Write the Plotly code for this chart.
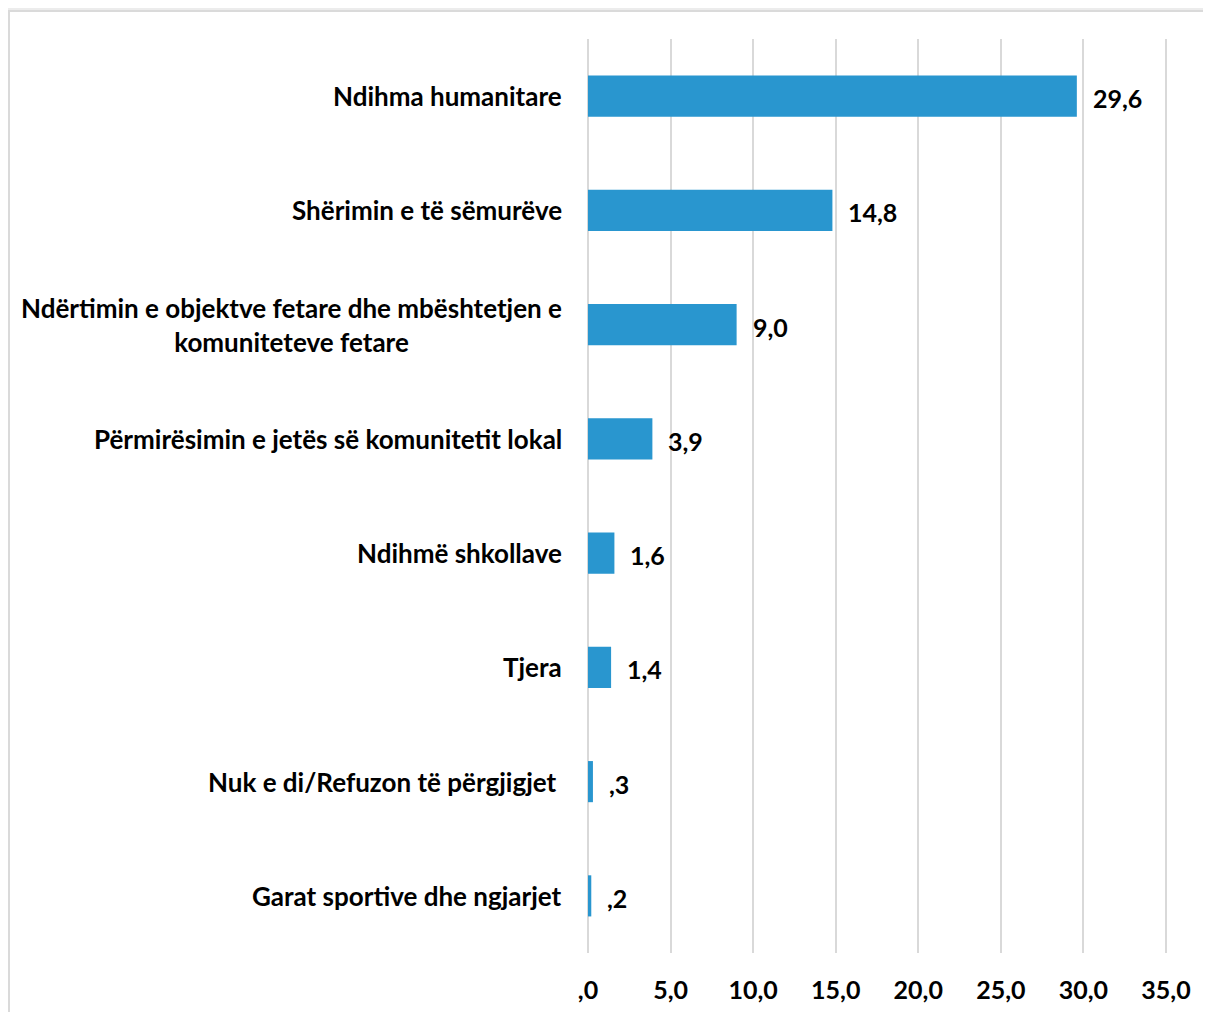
import plotly.graph_objects as go

categories = [
    "Ndihma humanitare",
    "Shërimin e të sëmurëve",
    "Ndërtimin e objektve fetare dhe mbështetjen e<br>komuniteteve fetare",
    "Përmirësimin e jetës së komunitetit lokal",
    "Ndihmë shkollave",
    "Tjera",
    "Nuk e di/Refuzon të përgjigjet ",
    "Garat sportive dhe ngjarjet",
]
values = [29.6, 14.8, 9.0, 3.9, 1.6, 1.4, 0.3, 0.2]
value_labels = ["29,6", "14,8", "9,0", "3,9", "1,6", "1,4", ",3", ",2"]

tick_vals = [0, 5, 10, 15, 20, 25, 30, 35]
tick_text = [",0", "5,0", "10,0", "15,0", "20,0", "25,0", "30,0", "35,0"]

BAR_COLOR = "#2996CF"
FONT = "Lato, 'Open Sans', sans-serif"

# page body adds an 8px offset, so the figure is sized to fit inside it
W, H = 1203, 1004
M = dict(l=578, r=43, t=31, b=59)
pw = W - M["l"] - M["r"]
ph = H - M["t"] - M["b"]

fig = go.Figure()
fig.add_trace(
    go.Bar(
        x=values,
        y=categories,
        orientation="h",
        marker=dict(color=BAR_COLOR, line=dict(width=0)),
        hoverinfo="skip",
    )
)

# category labels as annotations so the two-line label is centered
for cat in categories:
    fig.add_annotation(
        x=0, y=cat, xref="x", yref="y",
        text=f"<b>{cat}</b>",
        showarrow=False,
        xanchor="right",
        align="center",
        xshift=-24,
        font=dict(family=FONT, size=26, color="#000000"),
    )

# value labels beside the bar ends
for cat, val, lab in zip(categories, values, value_labels):
    fig.add_annotation(
        x=val, y=cat, xref="x", yref="y",
        text=f"<b>{lab}</b>",
        showarrow=False,
        xanchor="left",
        xshift=14,
        yshift=-2,
        font=dict(family=FONT, size=25, color="#000000"),
    )

# white card on grey page background
fig.add_shape(
    type="rect", xref="paper", yref="paper", layer="below",
    x0=(1 - M["l"]) / pw, x1=(W + 10 - M["l"]) / pw,
    y0=-(M["b"] + 10) / ph, y1=(H - 3 - M["b"]) / ph,
    fillcolor="white", line=dict(color="#DADADA", width=2),
)

fig.update_layout(
    width=W,
    height=H,
    margin=M,
    paper_bgcolor="#ECECEC",
    plot_bgcolor="rgba(0,0,0,0)",
    showlegend=False,
    bargap=0.64,
    xaxis=dict(
        # small padding so the 0 and 35 gridlines are drawn too
        range=[-0.12, 35.12],
        tickvals=tick_vals,
        ticktext=tick_text,
        showgrid=True,
        gridcolor="#D9D9D9",
        gridwidth=2,
        zeroline=False,
        showline=False,
        automargin=False,
        ticklabelstandoff=20,
        tickfont=dict(family=FONT, size=25, color="#000000", weight="bold"),
        fixedrange=True,
    ),
    yaxis=dict(
        autorange="reversed",
        showticklabels=False,
        showgrid=False,
        zeroline=False,
        showline=False,
        automargin=False,
        fixedrange=True,
    ),
)

fig.write_html("out.html")
